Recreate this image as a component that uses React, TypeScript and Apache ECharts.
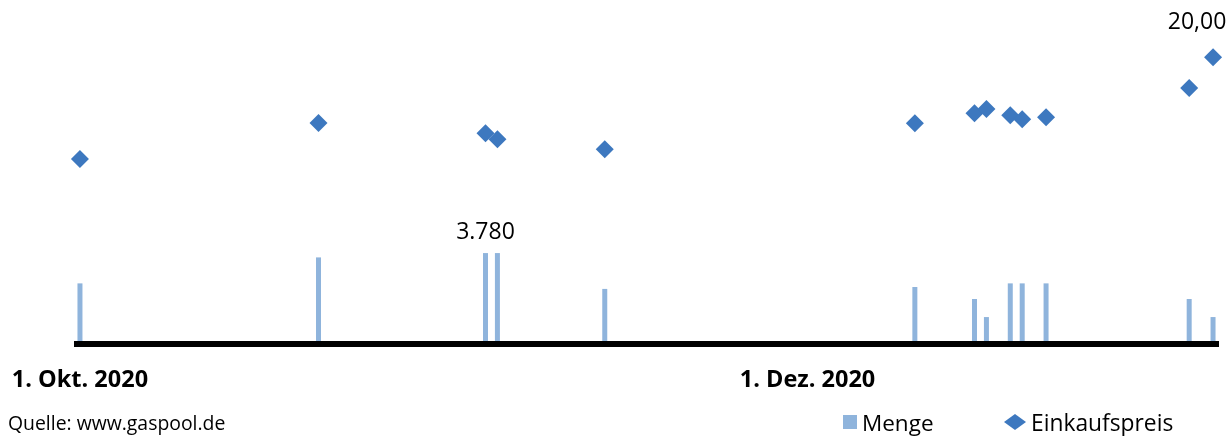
import React, { useEffect, useRef } from "react";
import * as echarts from "echarts";

const dates = [
  "2020-10-01", "2020-10-21", "2020-11-04", "2020-11-05", "2020-11-14",
  "2020-12-10", "2020-12-15", "2020-12-16", "2020-12-18", "2020-12-19",
  "2020-12-21", "2021-01-02", "2021-01-04",
];
const menge = [2520, 3600, 3780, 3780, 2290, 2370, 1870, 1120, 2520, 2520, 2520, 1870, 1120];
const einkaufspreis = [12.91, 15.42, 14.7, 14.28, 13.58, 15.4, 16.1, 16.4, 15.96, 15.68, 15.82, 17.86, 20.0];
const monthNames = ["Jan.", "Feb.", "März", "Apr.", "Mai", "Juni", "Juli", "Aug.", "Sep.", "Okt.", "Nov.", "Dez."];
const tickDates = ["2020-10-01", "2020-12-01"];
const mengeLabelIndex = 2;
const preisLabelIndex = 12;

const FONT = "Open Sans";

function parseLocal(s: string) {
  const [y, m, d] = s.split("-").map(Number);
  return new Date(y, m - 1, d).getTime();
}

export default function App() {
  const ref = useRef<HTMLDivElement>(null);
  useEffect(() => {
    if (!ref.current) return;
    const chart = echarts.init(ref.current, undefined, { renderer: "svg" });
    const xs = dates.map(parseLocal);
    const xMin = new Date(2020, 8, 30, 12).getTime();
    const xMax = new Date(2021, 0, 4, 12).getTime();
    const labelVals = tickDates.map(parseLocal);

    chart.setOption({
      animation: false,
      textStyle: { fontFamily: FONT },
      grid: { left: 74, right: 10, top: 0, bottom: 92, containLabel: false },
      xAxis: {
        type: "value",
        min: xMin,
        max: xMax,
        z: 5,
        splitLine: { show: false },
        axisTick: { show: false },
        axisLine: { show: true, lineStyle: { color: "#000", width: 6, cap: "butt" } },
        axisLabel: {
          customValues: labelVals,
          margin: 22,
          fontFamily: FONT,
          fontSize: 23.5,
          fontWeight: "bold",
          color: "#000",
          formatter: (v: number) => {
            const d = new Date(v);
            return `${d.getDate()}. ${monthNames[d.getMonth()]} ${d.getFullYear()}`;
          },
        },
      },
      yAxis: [
        { type: "value", min: 0, max: 14300, show: false },
        { type: "value", min: 0, max: 24, show: false },
      ],
      legend: [
        {
          data: [{ name: "Menge", icon: "rect" }],
          left: 838,
          top: 405,
          itemWidth: 14,
          itemHeight: 14,
          textStyle: { fontFamily: FONT, fontSize: 22.5, color: "#000", lineHeight: 24 },
        },
        {
          data: [{ name: "Einkaufspreis", icon: "diamond" }],
          left: 999,
          top: 405,
          itemWidth: 22,
          itemHeight: 16,
          textStyle: { fontFamily: FONT, fontSize: 22.8, color: "#000", lineHeight: 24 },
        },
      ],
      graphic: [
        {
          type: "text",
          left: 8,
          top: 413,
          style: { text: "Quelle: www.gaspool.de", fontFamily: FONT, fontSize: 19.4, fill: "#000" },
        },
      ],
      series: [
        {
          name: "Menge",
          type: "bar",
          yAxisIndex: 0,
          barWidth: 5,
          itemStyle: { color: "#8FB4DC", opacity: 1 },
          data: xs.map((x, i) => ({
            value: [x, menge[i]],
            label:
              i === mengeLabelIndex
                ? {
                    show: true,
                    position: "top",
                    distance: 12,
                    fontFamily: FONT,
                    fontSize: 23,
                    color: "#000",
                    formatter: () => menge[i].toLocaleString("de-DE"),
                  }
                : { show: false },
          })),
        },
        {
          name: "Einkaufspreis",
          type: "scatter",
          yAxisIndex: 1,
          symbol: "diamond",
          symbolSize: 18,
          itemStyle: { color: "#3D78BF", opacity: 1 },
          data: xs.map((x, i) => ({
            value: [x, einkaufspreis[i]],
            label:
              i === preisLabelIndex
                ? {
                    show: true,
                    position: "top",
                    distance: 17,
                    offset: [-16, 0],
                    fontFamily: FONT,
                    fontSize: 23,
                    color: "#000",
                    opacity: 1,
                    formatter: () => einkaufspreis[i].toFixed(2).replace(".", ","),
                  }
                : { show: false },
          })),
        },
      ],
    });
    return () => chart.dispose();
  }, []);
  return <div ref={ref} style={{ position: "fixed", left: 0, top: 0, width: 1229, height: 436 }} />;
}
